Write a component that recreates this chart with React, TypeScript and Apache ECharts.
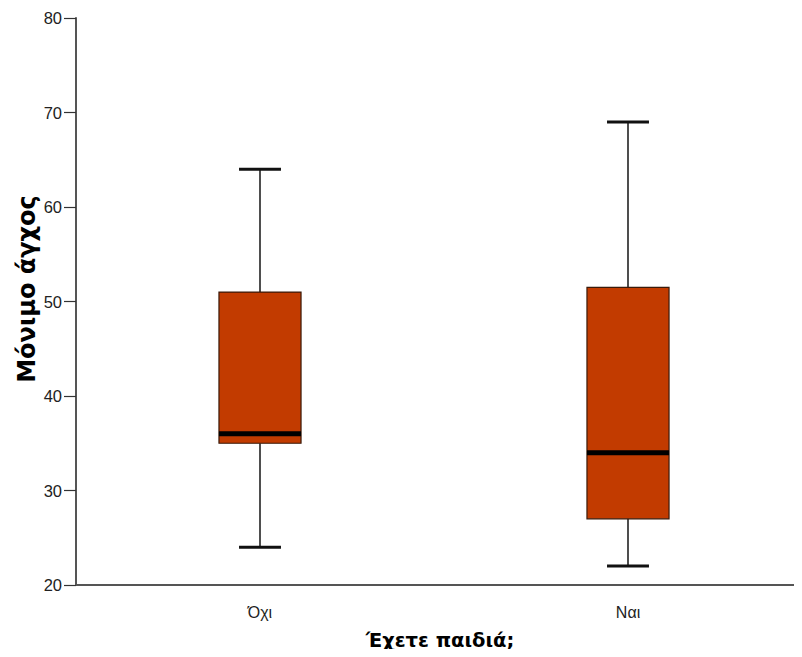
import React, { useEffect, useRef } from "react";
import * as echarts from "echarts";

// Groups and five-number summaries (min, Q1, median, Q3, max)
const categories = ["Όχι", "Ναι"];
const mins = [24, 22];
const q1s = [35, 27];
const medians = [36, 34];
const q3s = [51, 51.5];
const maxs = [64, 69];

const yTicks = { min: 20, max: 80, interval: 10 };

const FONT = "'Liberation Sans', Arial, sans-serif";
const TITLE_FONT = "'DejaVu Sans', sans-serif";

export default function App() {
  const ref = useRef<HTMLDivElement>(null);

  useEffect(() => {
    if (!ref.current) return;
    const chart = echarts.init(ref.current, undefined, { renderer: "svg" });

    const data = categories.map((_, i) => [i, mins[i], q1s[i], medians[i], q3s[i], maxs[i]]);

    const renderItem = (params: any, api: any) => {
      const idx = api.value(0);
      const pt = (v: number) => api.coord([idx, v]);
      const band = api.size([1, 0])[0];
      const boxW = band * 0.223;
      const capW = band * 0.114;
      const pMin = pt(api.value(1));
      const pQ1 = pt(api.value(2));
      const pMed = pt(api.value(3));
      const pQ3 = pt(api.value(4));
      const pMax = pt(api.value(5));
      const cx = pMin[0];
      const lineStyle = { stroke: "#222", lineWidth: 1.6 };
      return {
        type: "group",
        children: [
          { type: "line", shape: { x1: cx, y1: pMax[1], x2: cx, y2: pQ3[1] }, style: lineStyle },
          { type: "line", shape: { x1: cx, y1: pQ1[1], x2: cx, y2: pMin[1] }, style: lineStyle },
          { type: "line", shape: { x1: cx - capW / 2, y1: pMax[1], x2: cx + capW / 2, y2: pMax[1] }, style: { stroke: "#111", lineWidth: 3 } },
          { type: "line", shape: { x1: cx - capW / 2, y1: pMin[1], x2: cx + capW / 2, y2: pMin[1] }, style: { stroke: "#111", lineWidth: 3 } },
          {
            type: "rect",
            shape: { x: cx - boxW / 2, y: pQ3[1], width: boxW, height: pQ1[1] - pQ3[1] },
            style: { fill: "#c23b00", stroke: "#3a1a0a", lineWidth: 1.2 },
          },
          { type: "line", shape: { x1: cx - boxW / 2, y1: pMed[1], x2: cx + boxW / 2, y2: pMed[1] }, style: { stroke: "#000", lineWidth: 5 } },
        ],
      };
    };

    chart.setOption({
      animation: false,
      backgroundColor: "#fff",
      grid: { left: 76, top: 18, width: 736, height: 567, containLabel: false, outerBoundsMode: "none" },
      xAxis: {
        type: "category",
        data: categories,
        boundaryGap: true,
        axisLine: { lineStyle: { color: "#555", width: 2 } },
        axisTick: { alignWithLabel: true, length: 12, lineStyle: { color: "#222", width: 1.5 } },
        axisLabel: { color: "#222", fontSize: 16, fontFamily: FONT, margin: 19 },
        splitLine: { show: false },
      },
      yAxis: {
        type: "value",
        min: yTicks.min,
        max: yTicks.max,
        interval: yTicks.interval,
        axisLine: { show: true, lineStyle: { color: "#555", width: 2 } },
        axisTick: { show: true, length: 12, lineStyle: { color: "#333", width: 1.2 } },
        axisLabel: { color: "#222", fontSize: 16.5, fontFamily: FONT, margin: 14 },
        splitLine: { show: false },
      },
      graphic: [
        {
          type: "text",
          x: 440,
          y: 640,
          style: {
            text: "Έχετε παιδιά;",
            fill: "#000",
            font: `bold 19.5px ${TITLE_FONT}`,
            align: "center",
            verticalAlign: "middle",
          },
        },
        {
          type: "text",
          x: 27,
          y: 289,
          rotation: Math.PI / 2,
          style: {
            text: "Μόνιμο άγχος",
            fill: "#000",
            font: `bold 24px ${TITLE_FONT}`,
            align: "center",
            verticalAlign: "middle",
          },
        },
      ],
      series: [
        {
          type: "custom",
          renderItem,
          data,
          encode: { x: 0, y: [1, 2, 3, 4, 5] },
        },
      ],
    });

    return () => chart.dispose();
  }, []);

  return <div ref={ref} style={{ width: 802, height: 657, margin: -8 }} />;
}
